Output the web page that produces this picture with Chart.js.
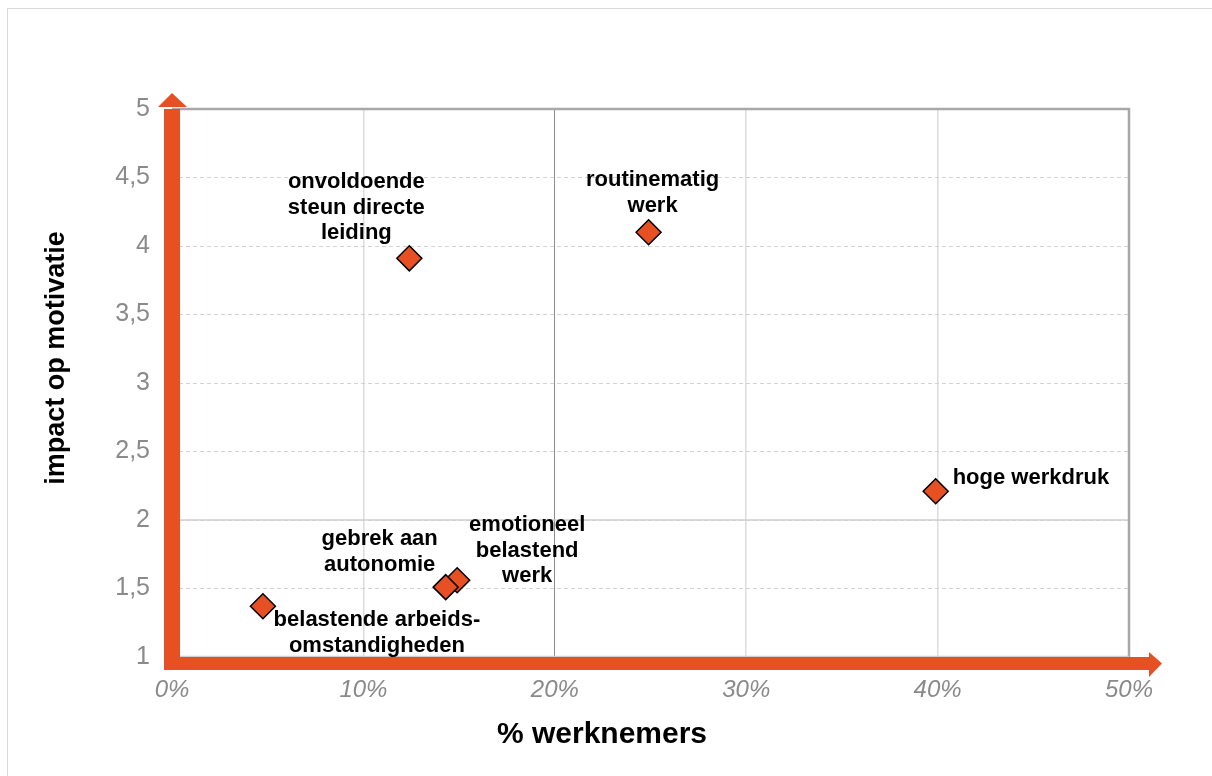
<!DOCTYPE html>
<html>
<head>
<meta charset="utf-8">
<script src="https://cdn.jsdelivr.net/npm/chart.js@4"></script>
<style>
  html, body { margin: 0; padding: 0; background: #fff; }
  #wrap { width: 1212px; height: 776px; }
</style>
</head>
<body>
<div id="wrap"><canvas id="scatterChart" width="1212" height="776"></canvas></div>
<script>
// data
const categories = [
  ['onvoldoende', 'steun directe', 'leiding'],
  ['routinematig', 'werk'],
  ['hoge werkdruk'],
  ['emotioneel', 'belastend', 'werk'],
  ['gebrek aan', 'autonomie'],
  ['belastende arbeids-', 'omstandigheden']
];
const pctWerknemers = [12.4, 24.9, 39.9, 14.9, 14.3, 4.75];
const impactMotivatie = [3.91, 4.10, 2.21, 1.56, 1.51, 1.37];
const xTickLabels = ['0%', '10%', '20%', '30%', '40%', '50%'];
const yTickLabels = ['1', '1,5', '2', '2,5', '3', '3,5', '4', '4,5', '5'];

const ORANGE = '#e65022';
const FONT = '"Liberation Sans", Arial, sans-serif';

// label placement relative to each point: dx, dy of first line, align
const labelPos = [
  { dx: -53, dy: -76, align: 'center' },
  { dx: 4, dy: -52, align: 'center' },
  { dx: 17, dy: -13, align: 'left' },
  { dx: 70, dy: -55, align: 'center' },
  { dx: -66, dy: -48, align: 'center' },
  { dx: 114, dy: 14, align: 'center' }
];

const decorPlugin = {
  id: 'decor',
  beforeDraw(chart) {
    const c = chart.ctx;
    c.save();
    c.strokeStyle = '#d9d9d9';
    c.lineWidth = 1;
    c.strokeRect(7.5, 8.5, 1212, 776);
    c.restore();
  },
  beforeDatasetsDraw(chart) {
    const c = chart.ctx;
    const { left, right, top, bottom } = chart.chartArea;
    const y2 = chart.scales.y.getPixelForValue(2);
    c.save();
    // solid line at 2
    c.strokeStyle = '#cfcfcf';
    c.lineWidth = 1.5;
    c.beginPath();
    c.moveTo(left, y2);
    c.lineTo(right, y2);
    c.stroke();
    // top and right frame
    c.strokeStyle = '#a8a8a8';
    c.lineWidth = 2.5;
    c.beginPath();
    c.moveTo(left, top);
    c.lineTo(right, top);
    c.lineTo(right, bottom);
    c.stroke();
    c.strokeStyle = '#cfcfcf';
    c.lineWidth = 1.5;
    c.beginPath();
    c.moveTo(left, bottom - 0.5);
    c.lineTo(right, bottom - 0.5);
    c.stroke();
    // orange axis arrows
    c.fillStyle = ORANGE;
    c.fillRect(left - 8, top, 16, bottom + 13 - top);
    c.beginPath();
    c.moveTo(left - 14, top - 2);
    c.lineTo(left, top - 16);
    c.lineTo(left + 15, top - 2);
    c.closePath();
    c.fill();
    c.fillRect(left - 8, bottom, right + 20 - (left - 8), 13);
    c.beginPath();
    c.moveTo(right + 20, bottom - 5);
    c.lineTo(right + 33, bottom + 6.5);
    c.lineTo(right + 20, bottom + 20);
    c.closePath();
    c.fill();
    c.restore();
  },
  afterDraw(chart) {
    const c = chart.ctx;
    const meta = chart.getDatasetMeta(0);
    c.save();
    c.fillStyle = '#000';
    c.font = 'bold 22px ' + FONT;
    c.textBaseline = 'middle';
    meta.data.forEach((pt, i) => {
      const p = labelPos[i];
      c.textAlign = p.align;
      categories[i].forEach((line, j) => {
        c.fillText(line, pt.x + p.dx, pt.y + p.dy + j * 25.5);
      });
    });
    // axis titles
    c.textAlign = 'center';
    c.textBaseline = 'alphabetic';
    c.font = 'bold 30px ' + FONT;
    c.fillText('% werknemers', 602, 743);
    c.translate(64, 358);
    c.rotate(-Math.PI / 2);
    c.font = 'bold 27px ' + FONT;
    c.fillText('impact op motivatie', 0, 0);
    c.restore();
  }
};

const ctx = document.getElementById('scatterChart').getContext('2d');
const chart = new Chart(ctx, {
  type: 'scatter',
  data: {
    datasets: [{
      label: 'impact',
      data: pctWerknemers.map((x, i) => ({ x: x, y: impactMotivatie[i] })),
      pointStyle: 'rectRot',
      pointRadius: 12.5,
      pointHoverRadius: 12.5,
      backgroundColor: ORANGE,
      borderColor: '#000',
      borderWidth: 1.5
    }]
  },
  plugins: [decorPlugin],
  options: {
    responsive: false,
    animation: false,
    events: [],
    layout: { padding: { top: 109, right: 83, left: 0, bottom: 0 } },
    plugins: { legend: { display: false }, tooltip: { enabled: false } },
    scales: {
      x: {
        type: 'linear',
        min: 0, max: 50,
        afterFit: s => { s.height = 119; },
        border: { display: false },
        grid: {
          drawTicks: false,
          color: c => c.tick && c.tick.value === 20 ? '#8c8c8c' : '#dcdcdc',
          lineWidth: c => c.tick && c.tick.value === 20 ? 1 : 1.5
        },
        ticks: {
          stepSize: 10,
          padding: 19,
          color: '#8a8a8a',
          font: { family: FONT, size: 24, style: 'italic' },
          callback: (v, i) => xTickLabels[i]
        }
      },
      y: {
        type: 'linear',
        min: 1, max: 5,
        afterFit: s => { s.width = 172; },
        border: { display: false, dash: [4, 3] },
        grid: {
          drawTicks: false,
          color: '#d2d2d2',
          lineWidth: 1
        },
        ticks: {
          stepSize: 0.5,
          padding: 22,
          color: '#8a8a8a',
          font: { family: FONT, size: 25 },
          callback: (v, i) => yTickLabels[i]
        }
      }
    }
  }
});
</script>
</body>
</html>
